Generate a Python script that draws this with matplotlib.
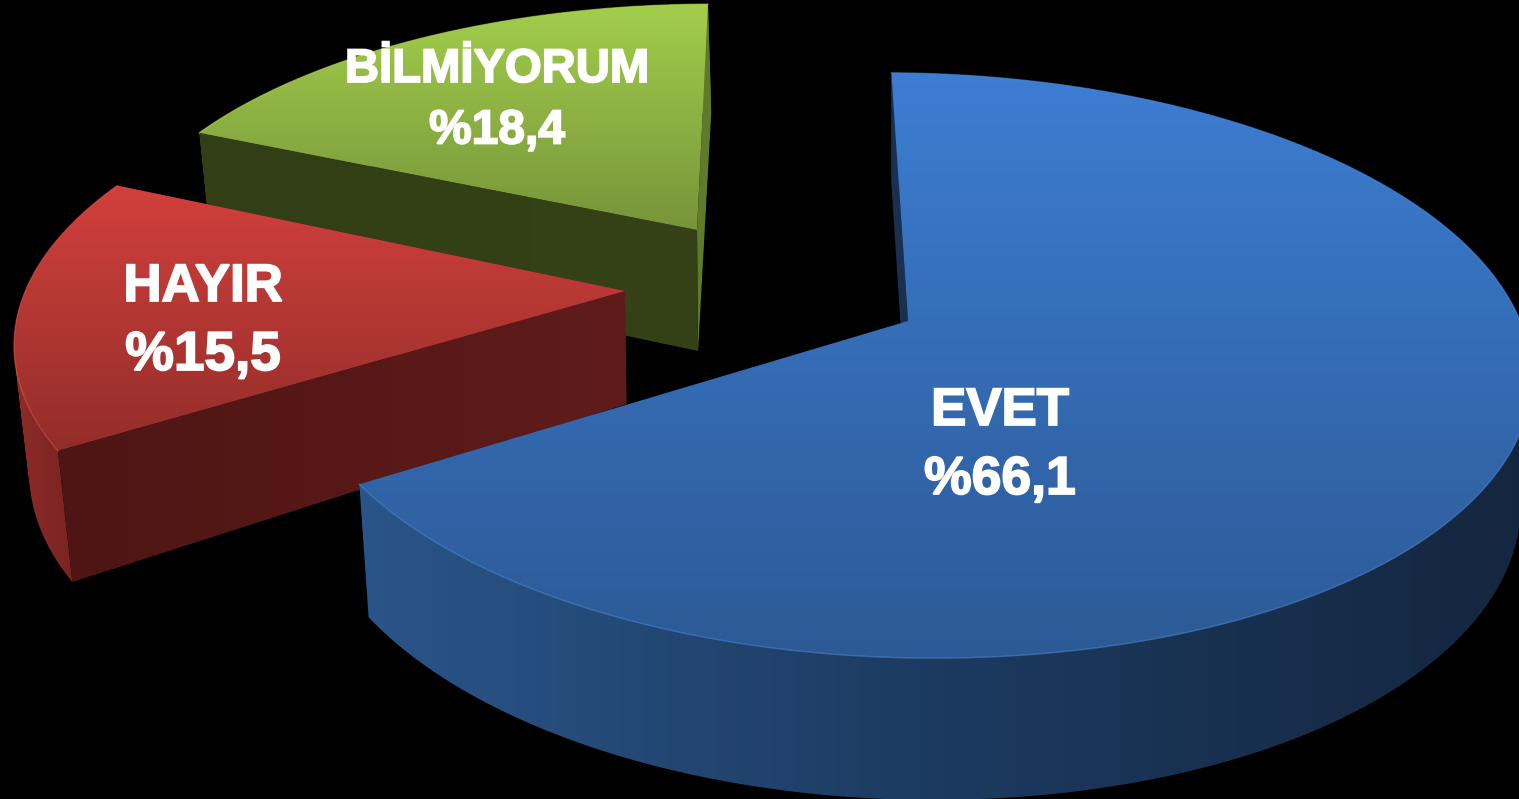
import numpy as np
import matplotlib
matplotlib.use('Agg')
import matplotlib.pyplot as plt
import matplotlib.patheffects as pe
from matplotlib.colors import LinearSegmentedColormap
from matplotlib.patches import PathPatch, Polygon
from matplotlib.path import Path

# Chart data
labels = ['EVET', 'HAYIR', 'BİLMİYORUM']
values = [66.1, 15.5, 18.4]
value_labels = ['%66,1', '%15,5', '%18,4']

# Pie layout in image pixels, one entry per slice
apex = [(908, 321), (625, 291), (697, 230)]
start_angle = [-1.0, 238.0, 295.0]
scale_x = [1.0, 0.975, 0.95]
scale_y = [1.0, 0.97, 0.91]
scale_left = [0.985, 1.0, 1.0]
shear_x = [0.03, -0.087, 0.0]
shear_y = [0.012, 0.0, -0.012]
apex_drop = [119, 113, 121]
text_pos = [(1000, 411, 480), (203, 287, 356), (497, 70, 131)]
text_size = [38, 38, 34]
pct_size = [38.5, 39.5, 34.5]

# Colours
top_colors = [('#3d7dd2', '#2c5a96'), ('#d2403c', '#932d2a'), ('#a2ce4c', '#77943a')]
rim_colors = [('#2a5589', '#1c3a60', '#14263f'), ('#8e2b28', '#7a2422', '#6a1f1d'), ('#5f7a2a', '#5f7a2a', '#5f7a2a')]
front_colors = [('#1a3050', '#1a3050'), ('#4e1514', '#5f1c1a'), ('#323e15', '#354217')]
back_colors = ['#1a3050', '#6e2120', '#5f7a2a']
edge_colors = ['#4a8ad8', '#d8504a', '#a8d055']

# Projection of the unit disc
RX = 615.0
RY = 285.8
PERSP = 0.152


def rim_point(theta, i):
    x = np.sin(np.radians(theta))
    y = -np.cos(np.radians(theta))
    s = 1 / (1 - PERSP * y)
    dx = RX * scale_x[i] * x * s
    dx = np.where(dx < 0, dx * scale_left[i], dx)
    dy = RY * scale_y[i] * y * s
    return (apex[i][0] + dx + shear_x[i] * dy,
            apex[i][1] + dy + shear_y[i] * dx)


def drop(px, py):
    # extruded edge leans towards the vanishing point below the pie
    return px + (900 - px) * 0.017, py + 112 + (py - 73) * 0.051


def fill_gradient(ax, shape, colors, horizontal, zorder):
    path = shape if isinstance(shape, Path) else Path(np.vstack([shape, shape[0]]), closed=True)
    x0, y0 = path.vertices.min(axis=0)
    x1, y1 = path.vertices.max(axis=0)
    cmap = LinearSegmentedColormap.from_list('g', colors)
    ramp = np.linspace(0, 1, 256)
    grad = ramp[None, :] if horizontal else ramp[:, None]
    im = ax.imshow(grad, cmap=cmap, extent=(x0, x1, y1, y0), origin='upper',
                   aspect='auto', zorder=zorder, interpolation='bilinear')
    patch = PathPatch(path, transform=ax.transData, fc='none', ec='none')
    ax.add_patch(patch)
    im.set_clip_path(patch)


def wall_path(rim_x, rim_y, low_x, low_y):
    # one quad per step, all wound the same way, so the silhouette is filled
    quads = []
    for j in range(len(rim_x) - 1):
        q = np.array([[rim_x[j], rim_y[j]], [rim_x[j + 1], rim_y[j + 1]],
                      [low_x[j + 1], low_y[j + 1]], [low_x[j], low_y[j]]])
        area = np.sum(q[:, 0] * np.roll(q[:, 1], -1) - np.roll(q[:, 0], -1) * q[:, 1])
        if area < 0:
            q = q[::-1]
        quads.append(Path(np.vstack([q, q[0]]), closed=True))
    return Path.make_compound_path(*quads)


fig = plt.figure(figsize=(15.19, 7.99), dpi=100, facecolor='black')
ax = fig.add_axes([0, 0, 1, 1])
ax.set_facecolor('black')

# Draw back to front: green, red, blue
for i in [2, 1, 0]:
    base = 10 * (3 - i)
    span = values[i] / sum(values) * 360
    thetas = np.linspace(start_angle[i], start_angle[i] + span, 200)
    rim_x, rim_y = rim_point(thetas, i)
    low_x, low_y = drop(rim_x, rim_y)
    ax_pt = apex[i]
    ax_low = (ax_pt[0] + (900 - ax_pt[0]) * 0.017 * 0.3, ax_pt[1] + apex_drop[i])

    # curved outer wall
    fill_gradient(ax, wall_path(rim_x, rim_y, low_x, low_y), rim_colors[i], True, base)

    # cut face at the end of the slice, the blue one is out of sight
    if i != 0:
        back = [ax_pt, (rim_x[-1], rim_y[-1]), (low_x[-1], low_y[-1]), ax_low]
        ax.add_patch(Polygon(back, closed=True, fc=back_colors[i], ec='none', zorder=base + 1))

    # cut face at the start of the slice
    front = np.array([ax_pt, (rim_x[0], rim_y[0]), (low_x[0], low_y[0]), ax_low])
    fill_gradient(ax, front, front_colors[i], True, base + 2)

    # top face
    top = np.array([ax_pt] + list(zip(rim_x, rim_y)))
    fill_gradient(ax, top, top_colors[i], False, base + 3)
    ax.plot(rim_x, rim_y, color=edge_colors[i], lw=1.0, alpha=0.6, zorder=base + 4)

for i in range(3):
    x, y1, y2 = text_pos[i]
    for txt, yy, fs in [(labels[i], y1, text_size[i]), (value_labels[i], y2, pct_size[i])]:
        ax.text(x, yy, txt, color='white', fontsize=fs, fontweight='bold',
                family='Liberation Sans', ha='center', va='center', zorder=50,
                path_effects=[pe.withStroke(linewidth=1.3, foreground='white', joinstyle='miter')])

ax.set_xlim(0, 1519)
ax.set_ylim(799, 0)
ax.axis('off')
fig.savefig('out.png', dpi=100, facecolor='black')
